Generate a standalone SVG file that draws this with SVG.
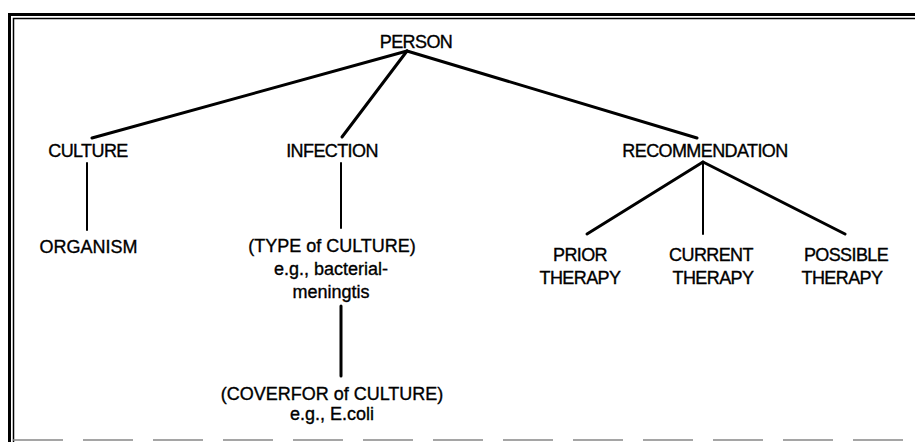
<svg xmlns="http://www.w3.org/2000/svg" width="915" height="442" viewBox="0 0 915 442">
<style>
text{font-family:"Liberation Sans",Arial,Helvetica,sans-serif;font-size:18px;fill:#000;stroke:#000;stroke-width:0.35;text-anchor:middle}
.cap{letter-spacing:-0.6px}
.e{stroke:#000;stroke-linecap:round;fill:none}
.thick{stroke-width:3}
.thin{stroke-width:2}
</style>
<rect width="915" height="442" fill="#fff"/>
<g id="frame" fill="none">
<path d="M9.5 442V14.5H915" stroke="#000" stroke-width="3"/>
<path d="M13.5 442V18.5H915" stroke="#000" stroke-width="1.5"/>
<line x1="13" y1="440" x2="915" y2="440" stroke="#888" stroke-width="1.5" stroke-dasharray="50 20"/>
</g>
<g id="connectors">
<line class="e thick" x1="407" y1="51" x2="92" y2="138"/>
<line class="e thick" x1="407" y1="51" x2="342" y2="137"/>
<line class="e thick" x1="407" y1="51" x2="697" y2="138"/>
<line class="e thin" x1="87" y1="163" x2="87" y2="230"/>
<line class="e thin" x1="341" y1="163" x2="341" y2="228"/>
<line class="e thick" x1="341" y1="306" x2="341" y2="376"/>
<line class="e thick" x1="703" y1="162" x2="587" y2="234"/>
<line class="e thin" x1="703" y1="162" x2="703" y2="234"/>
<line class="e thick" x1="703" y1="162" x2="845" y2="234"/>
</g>
<g id="person"><text class="cap" x="416" y="48">PERSON</text></g>
<g id="culture"><text class="cap" x="88" y="157">CULTURE</text></g>
<g id="infection"><text class="cap" x="332" y="157">INFECTION</text></g>
<g id="recommendation"><text class="cap" x="705" y="157">RECOMMENDATION</text></g>
<g id="organism"><text x="88.5" y="253">ORGANISM</text></g>
<g id="type-of-culture">
<text x="332" y="252">(TYPE of CULTURE)</text>
<text x="331" y="275">e.g., bacterial-</text>
<text x="331" y="298">meningtis</text>
</g>
<g id="coverfor-of-culture">
<text x="332" y="400">(COVERFOR of CULTURE)</text>
<text x="332" y="420">e.g., E.coli</text>
</g>
<g id="prior-therapy">
<text class="cap" x="580" y="261">PRIOR</text>
<text class="cap" x="580" y="284">THERAPY</text>
</g>
<g id="current-therapy">
<text class="cap" x="711" y="261">CURRENT</text>
<text class="cap" x="713" y="284">THERAPY</text>
</g>
<g id="possible-therapy">
<text class="cap" x="846" y="261">POSSIBLE</text>
<text class="cap" x="842" y="284">THERAPY</text>
</g>
</svg>
